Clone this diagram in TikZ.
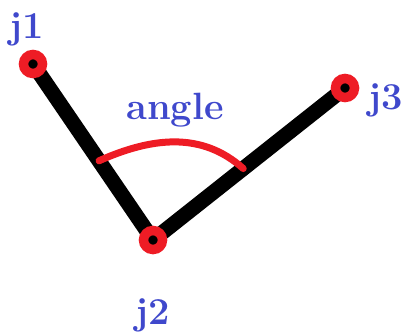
\documentclass[tikz,border=0pt]{standalone}
\usepackage{tikz}
\usetikzlibrary{positioning,calc,backgrounds}
\definecolor{jointred}{HTML}{EE1C25}
\definecolor{lblblue}{HTML}{3F48CC}
\tikzset{
  joint/.style={circle,draw=jointred,fill=black,line width=9.5pt,minimum size=19pt,inner sep=0pt},
  bone/.style={draw=black,line width=15pt},
  jlbl/.style={font=\fontsize{38}{38}\selectfont\bfseries,text=lblblue,inner sep=0pt},
  arcline/.style={draw=jointred,line width=7pt,line cap=round},
}
\begin{document}
\begin{tikzpicture}[x=1pt,y=-1pt]
  \useasboundingbox (0,0) rectangle (403,332);
  \node[joint] (j1) at (33,64) {};
  \node[joint] (j2) at (153,240) {};
  \node[joint] (j3) at (345,88) {};
  \begin{scope}[on background layer]
    \draw[bone] (j1.center) -- (j2.center);
    \draw[bone] (j2.center) -- (j3.center);
  \end{scope}
  \node[jlbl] (l1) at (27,29) {j1};
  \node[jlbl,below=44pt of j2] (l2) {j2};
  \node[jlbl,right=9pt of j3,yshift=-12pt] (l3) {j3};
  % the angle between the two bones
  \coordinate (a1) at ($(j2)!0.45!(j1)$);
  \coordinate (a3) at ($(j2)!0.47!(j3)$);
  \draw[arcline] (a1) to[out=24,in=138] (a3);
  \node[jlbl] (lang) at (175,110) {angle};
\end{tikzpicture}
\end{document}
